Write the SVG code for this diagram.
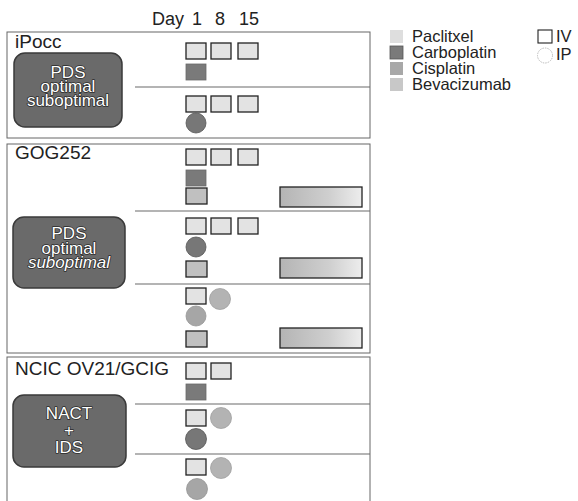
<svg xmlns="http://www.w3.org/2000/svg" width="578" height="501" viewBox="0 0 578 501">
<defs>
<linearGradient id="bevGrad" x1="0" y1="0" x2="1" y2="0">
<stop offset="0" stop-color="#b4b4b4"/>
<stop offset="0.6" stop-color="#cfcfcf"/>
<stop offset="1" stop-color="#ededed"/>
</linearGradient>
<style>
text{font-family:"Liberation Sans",Arial,sans-serif;fill:#222}
.panel{fill:none;stroke:#666;stroke-width:1}
.lbl{font-size:19px}
.day{font-size:18px}
.leg{font-size:16.5px}
.dark{fill:#6a6a6a;stroke:#3a3a3a;stroke-width:1.5}
.dt{font-size:17px;fill:#fff;stroke:#2a2a2a;stroke-width:1.6;stroke-linejoin:round;paint-order:stroke;text-anchor:middle}
.div{stroke:#6a6a6a;stroke-width:1.2}
.pac{fill:#e3e3e3;stroke:#222;stroke-width:1.3}
.carb{fill:#7a7a7a;stroke:#6a6a6a;stroke-width:0.8}
.bevb{fill:#c0c0c0;stroke:#222;stroke-width:1.3}
.bar{fill:url(#bevGrad);stroke:#222;stroke-width:1.3}
.carbc{fill:#777;stroke:#555;stroke-width:0.8}
.cisc{fill:#a6a6a6;stroke:#959595;stroke-width:0.8}
.pacc{fill:#b3b3b3;stroke:#a0a0a0;stroke-width:0.8}
</style>
</defs>

<g id="header">
<text class="day" x="152" y="25">Day</text>
<text class="day" x="197" y="25" text-anchor="middle">1</text>
<text class="day" x="220" y="25" text-anchor="middle">8</text>
<text class="day" x="249" y="25" text-anchor="middle">15</text>
</g>

<g id="legend">
<rect x="390" y="30" width="13" height="13" fill="#dedede"/>
<text class="leg" x="412" y="42">Paclitxel</text>
<rect x="390" y="46" width="13" height="13" fill="#7a7a7a" stroke="#555" stroke-width="0.8"/>
<text class="leg" x="412" y="58">Carboplatin</text>
<rect x="390" y="62" width="13" height="13" fill="#a8a8a8"/>
<text class="leg" x="412" y="74">Cisplatin</text>
<rect x="390" y="78" width="13" height="13" fill="#c8c8c8"/>
<text class="leg" x="412" y="90">Bevacizumab</text>
<rect x="538" y="30" width="14" height="13" fill="#fff" stroke="#222" stroke-width="1.1"/>
<text class="leg" x="556" y="42">IV</text>
<circle cx="545" cy="55.5" r="7.5" fill="#fff" stroke="#aaa" stroke-width="0.8" stroke-dasharray="1.5 1"/>
<text class="leg" x="556" y="60">IP</text>
</g>

<g id="ipocc">
<rect class="panel" x="7" y="32" width="363" height="106"/>
<text class="lbl" x="15" y="48">iPocc</text>
<rect class="dark" x="14" y="53" width="108" height="74" rx="11"/>
<text class="dt" x="68" y="78">PDS</text>
<text class="dt" x="68" y="92">optimal</text>
<text class="dt" x="68" y="106">suboptimal</text>
<rect class="pac" x="186" y="43" width="20" height="16"/>
<rect class="pac" x="211" y="43" width="20" height="16"/>
<rect class="pac" x="238" y="43" width="20" height="16"/>
<rect class="carb" x="186" y="64" width="20" height="16"/>
<rect class="pac" x="186" y="96" width="20" height="16"/>
<rect class="pac" x="211" y="96" width="20" height="16"/>
<rect class="pac" x="238" y="96" width="20" height="16"/>
<circle class="carbc" cx="196" cy="123" r="10"/>
</g>

<g id="gog252">
<rect class="panel" x="7" y="144" width="363" height="209"/>
<text class="lbl" x="15" y="159">GOG252</text>
<rect class="dark" x="13" y="217" width="112" height="71" rx="11"/>
<text class="dt" x="69" y="239">PDS</text>
<text class="dt" x="69" y="254">optimal</text>
<text class="dt" x="69" y="268" font-style="italic">suboptimal</text>
<rect class="pac" x="186" y="149" width="20" height="16"/>
<rect class="pac" x="211" y="149" width="20" height="16"/>
<rect class="pac" x="238" y="149" width="20" height="16"/>
<rect class="carb" x="186" y="170" width="20" height="16"/>
<rect class="bevb" x="186" y="188" width="21" height="16"/>
<rect class="bar" x="280" y="187" width="82" height="20"/>
<rect class="pac" x="186" y="218" width="20" height="16"/>
<rect class="pac" x="211" y="218" width="20" height="16"/>
<rect class="pac" x="238" y="218" width="20" height="16"/>
<circle class="carbc" cx="196" cy="247" r="10"/>
<rect class="bevb" x="186" y="261" width="21" height="16"/>
<rect class="bar" x="280" y="258" width="82" height="20"/>
<rect class="pac" x="186" y="288" width="20" height="16"/>
<circle class="pacc" cx="220" cy="299" r="10.5"/>
<circle class="cisc" cx="196" cy="316" r="10"/>
<rect class="bevb" x="186" y="331" width="21" height="16"/>
<rect class="bar" x="280" y="328" width="82" height="20"/>
</g>

<g id="ncic">
<rect class="panel" x="7" y="357" width="363" height="150"/>
<text class="lbl" x="15" y="375">NCIC OV21/GCIG</text>
<rect class="dark" x="13" y="395" width="113" height="72" rx="11"/>
<text class="dt" x="69" y="419">NACT</text>
<text class="dt" x="69" y="436">+</text>
<text class="dt" x="69" y="453">IDS</text>
<rect class="pac" x="186" y="363" width="20" height="16"/>
<rect class="pac" x="211" y="363" width="20" height="16"/>
<rect class="carb" x="186" y="384" width="20" height="16"/>
<rect class="pac" x="186" y="410" width="20" height="16"/>
<circle class="pacc" cx="221" cy="418" r="10.5"/>
<circle class="carbc" cx="196" cy="439" r="10.5"/>
<rect class="pac" x="186" y="459" width="20" height="16"/>
<circle class="pacc" cx="221" cy="468" r="10.5"/>
<circle class="cisc" cx="197" cy="489" r="10.5"/>
</g>

<g id="connectors">
<line class="div" x1="135" y1="87" x2="370" y2="87"/>
<line class="div" x1="135" y1="211" x2="370" y2="211"/>
<line class="div" x1="135" y1="284" x2="370" y2="284"/>
<line class="div" x1="135" y1="404" x2="370" y2="404"/>
<line class="div" x1="135" y1="454" x2="370" y2="454"/>
</g>
</svg>
